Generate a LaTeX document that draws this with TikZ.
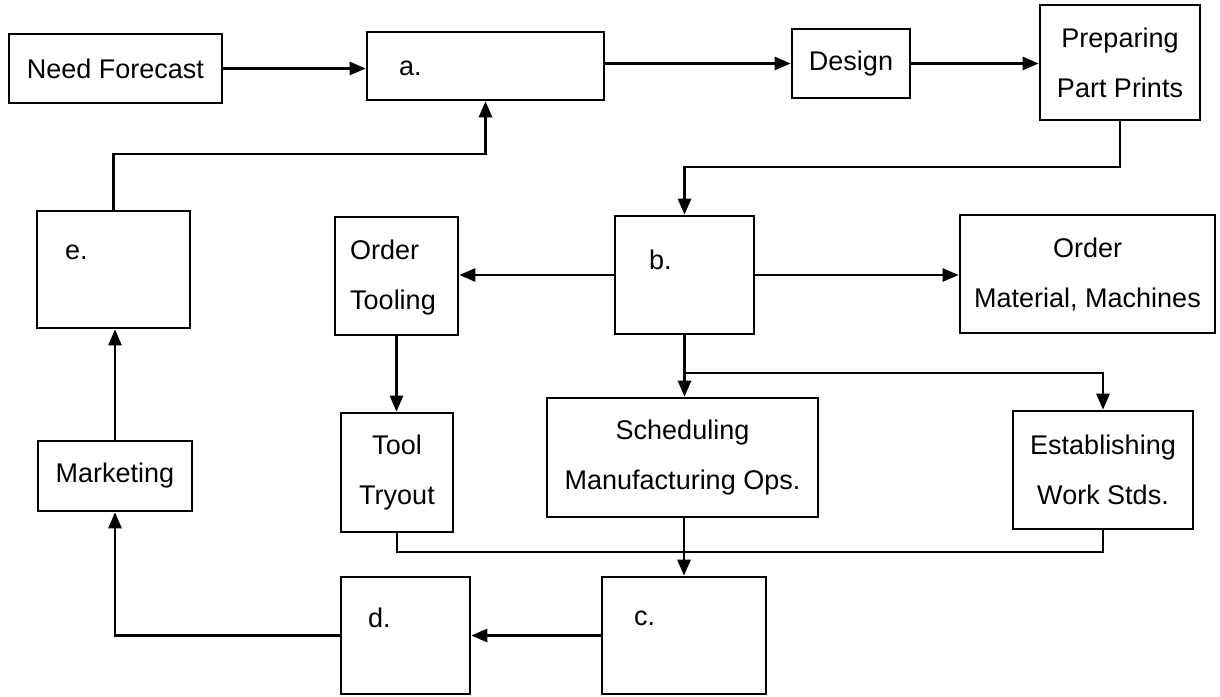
\documentclass[tikz,border=0pt]{standalone}
\usepackage{fontspec}
\setmainfont{Liberation Sans}
\usetikzlibrary{arrows.meta,calc}
\begin{document}
\begin{tikzpicture}[x=1pt,y=-1pt,
  box/.style={draw,line width=2.6pt,inner sep=0pt,align=center,
    font=\fontsize{27}{50}\selectfont},
  lbl/.style={inner sep=0pt,font=\fontsize{27}{50}\selectfont},
  conn/.style={line width=2.6pt},
  arr/.style={line width=2.6pt,-{Triangle[length=16pt,width=13pt]}}]
\useasboundingbox (0,0) rectangle (1220,696);
% boxes
\node[box,minimum width=213pt,minimum height=69pt] (nf) at (115.5,68.5) {Need Forecast};
\node[box,minimum width=237pt,minimum height=68pt] (a) at (485.5,66) {};
\node[box,minimum width=118pt,minimum height=69pt] (design) at (851,63.5) {Design};
\node[box,minimum width=160pt,minimum height=115pt] (prep) at (1120,62.5) {Preparing\\Part Prints};
\node[box,minimum width=153pt,minimum height=117pt] (e) at (113.5,269.5) {};
\node[box,minimum width=123pt,minimum height=118pt] (ot) at (396.5,276) {};
\node[box,minimum width=139pt,minimum height=118pt] (b) at (684.5,275) {};
\node[box,minimum width=255pt,minimum height=118pt] (om) at (1087.5,274) {Order\\Material, Machines};
\node[box,minimum width=154pt,minimum height=70pt] (mk) at (115,476) {Marketing};
\node[box,minimum width=112pt,minimum height=119pt] (tt) at (397,472.5) {Tool\\Tryout};
\node[box,minimum width=271pt,minimum height=119pt] (sch) at (682.5,457.5) {Scheduling\\Manufacturing Ops.};
\node[box,minimum width=180pt,minimum height=118pt] (est) at (1103,470) {Establishing\\Work Stds.};
\node[box,minimum width=129pt,minimum height=117pt] (d) at (405.5,635.5) {};
\node[box,minimum width=164pt,minimum height=117pt] (c) at (684,635.5) {};
% labels inside boxes
\node[lbl,anchor=west] (la) at (399,68) {a.};
\node[lbl,anchor=west] (le) at (65,252) {e.};
\node[lbl,anchor=west] (lb) at (649,260) {b.};
\node[lbl,anchor=west] (lc) at (634,618) {c.};
\node[lbl,anchor=west] (ld) at (368,618) {d.};
\node[lbl,anchor=west,align=left] (lot) at (350,278) {Order\\Tooling};
% junctions
\coordinate (jb) at (684.5,167);
\coordinate (jbs) at (684.5,373);
\coordinate (jc) at (684,552);
\coordinate (je) at (485.5,154);
% connectors
\draw[arr] (nf.east) -- (nf.east -| a.west);
\draw[arr] (a.east |- design.west) -- (design.west);
\draw[arr] (design.east) -- (design.east -| prep.west);
\draw[arr] (prep.south) |- (jb) -- (b.north);
\draw[arr] (b.west) -- (b.west -| ot.east);
\draw[arr] (b.east) -- (b.east -| om.west);
\draw[arr] (b.south) -- (b.south |- sch.north);
\draw[arr] (jbs) -| (est.north);
\draw[arr] (ot.south) -- (ot.south |- tt.north);
\draw[conn] (tt.south) |- (jc);
\draw[conn] (est.south) |- (jc);
\draw[arr] (c.north |- sch.south) -- (c.north);
\draw[arr] (c.west) -- (c.west -| d.east);
\draw[arr] (d.west) -| (mk.south);
\draw[arr] (mk.north) -- (mk.north |- e.south);
\draw[arr] (e.north) |- (je) -- (a.south);
\end{tikzpicture}
\end{document}
